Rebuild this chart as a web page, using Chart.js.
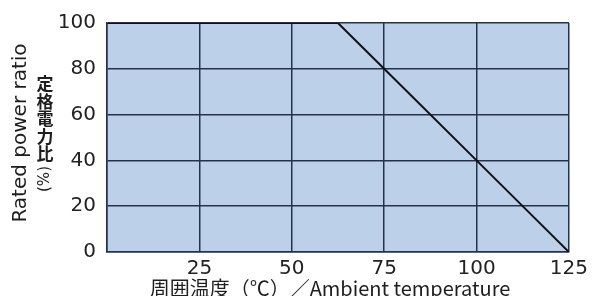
<!DOCTYPE html>
<html>
<head>
<meta charset="utf-8">
<script src="https://cdn.jsdelivr.net/npm/chart.js@4"></script>
<style>
  body { margin: 0; background: #fff; }
</style>
</head>
<body>
<canvas id="myChart" width="593" height="296"></canvas>
<script>
// derating curve: ambient temp vs rated power ratio
const temps = [0, 62.5, 75, 100, 125];
const ratios = [100, 100, 80, 40, 0];
const xTicks = [25, 50, 75, 100, 125];
const yTicks = [0, 20, 40, 60, 80, 100];

const xTitle = '周囲温度（℃）／Ambient temperature';
const yTitleEn = 'Rated power ratio';
const yTitleJa = ['定', '格', '電', '力', '比'];

let gridColor = '#25324a';
let tickFont = { family: 'DejaVu Sans', size: 20 };

let plotBg = {
  id: 'plotBg',
  beforeDraw: chart => {
    let { ctx, chartArea: a } = chart;
    ctx.save();
    ctx.fillStyle = '#bcd0ea';
    ctx.fillRect(a.left, a.top, a.right - a.left, a.bottom - a.top);
    ctx.restore();
  }
};

let titles = {
  id: 'titles',
  afterDraw: chart => {
    let ctx = chart.ctx;
    ctx.save();
    ctx.fillStyle = '#1e1e1e';
    ctx.textAlign = 'center';
    ctx.textBaseline = 'middle';
    ctx.font = '20px "Noto Sans CJK JP"';
    ctx.fillText(xTitle, 330, 288);

    ctx.translate(21, 133);
    ctx.rotate(-Math.PI / 2);
    ctx.font = '20px "DejaVu Sans"';
    ctx.fillText(yTitleEn, 0, 0);
    ctx.restore();

    ctx.save();
    ctx.fillStyle = '#1e1e1e';
    ctx.textAlign = 'center';
    ctx.textBaseline = 'middle';
    ctx.font = 'bold 17px "Noto Sans CJK JP"';
    yTitleJa.forEach((c, i) => ctx.fillText(c, 45, 84 + i * 17.5));
    ctx.translate(45, 179);
    ctx.rotate(-Math.PI / 2);
    ctx.font = '15px "DejaVu Sans"';
    ctx.fillText('(%)', 0, 0);
    ctx.restore();
  }
};

let ctx = document.getElementById('myChart').getContext('2d');
let chart = new Chart(ctx, {
  type: 'scatter',
  data: {
    datasets: [{
      data: temps.map((t, i) => ({ x: t, y: ratios[i] })),
      showLine: true,
      borderColor: '#111',
      borderWidth: 2,
      pointRadius: 0
    }]
  },
  options: {
    responsive: false,
    animation: false,
    layout: { padding: { top: 18, right: 24, left: 0, bottom: 0 } },
    plugins: { legend: { display: false }, tooltip: { enabled: false } },
    scales: {
      x: {
        type: 'linear',
        min: 0,
        max: 125,
        afterFit: s => { s.height = 44; },
        afterBuildTicks: s => { s.ticks = [0].concat(xTicks).map(v => ({ value: v })); },
        grid: { color: gridColor, lineWidth: 1.5, drawTicks: false },
        border: { color: gridColor, width: 1.5 },
        ticks: {
          padding: 5,
          color: '#222',
          font: tickFont,
          maxRotation: 0,
          callback: v => v === 0 ? '' : v
        }
      },
      y: {
        min: 0,
        max: 100,
        afterFit: s => { s.width = 107; },
        afterBuildTicks: s => { s.ticks = yTicks.map(v => ({ value: v })); },
        grid: { color: gridColor, lineWidth: 1.5, drawTicks: false },
        border: { color: gridColor, width: 1.5 },
        ticks: { padding: 11, color: '#222', font: tickFont }
      }
    }
  },
  plugins: [plotBg, titles]
});
</script>
</body>
</html>
